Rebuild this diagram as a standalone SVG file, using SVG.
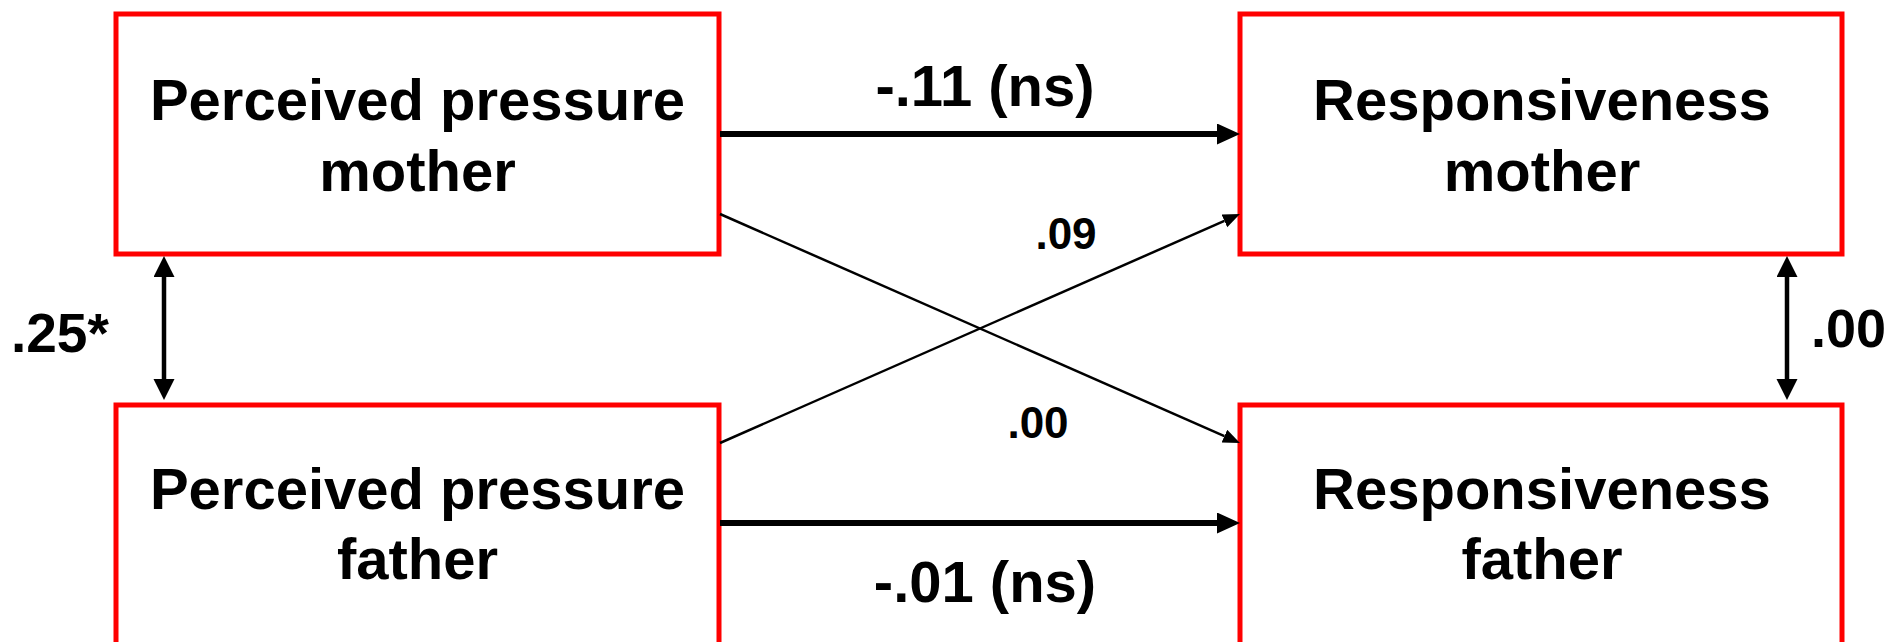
<svg xmlns="http://www.w3.org/2000/svg" width="1904" height="642" viewBox="0 0 1904 642">
<style>
.box{fill:#fff;stroke:#ff0000;stroke-width:5}
.nt{font-family:"Liberation Sans",Arial,sans-serif;font-weight:bold;font-size:58px;fill:#000;text-anchor:middle}
.lb{font-family:"Liberation Sans",Arial,sans-serif;font-weight:bold;fill:#000}
.thick{stroke:#000;stroke-width:6;fill:none}
.thin{stroke:#000;stroke-width:2.5;fill:none}
.vert{stroke:#000;stroke-width:4.5;fill:none}
</style>
<defs>
<marker id="ahBig" markerUnits="userSpaceOnUse" markerWidth="24" markerHeight="22" refX="0" refY="10.5" orient="auto"><path d="M0,0 L23,10.5 L0,21 z" fill="#000"/></marker>
<marker id="ahThin" markerUnits="userSpaceOnUse" markerWidth="18" markerHeight="15" refX="0" refY="7" orient="auto"><path d="M0,0 L17,7 L0,14 z" fill="#000"/></marker>
<marker id="ahV" markerUnits="userSpaceOnUse" markerWidth="22" markerHeight="22" refX="0" refY="10.5" orient="auto-start-reverse"><path d="M0,0 L21,10.5 L0,21 z" fill="#000"/></marker>
</defs>
<rect width="1904" height="642" fill="#fff"/>
<g id="node-ppm"><rect class="box" x="116" y="14" width="603" height="240"/><text class="nt" x="417.5" y="120">Perceived pressure</text><text class="nt" x="417.5" y="191">mother</text></g>
<g id="node-ppf"><rect class="box" x="116" y="405" width="603" height="240"/><text class="nt" x="417.5" y="509">Perceived pressure</text><text class="nt" x="417.5" y="579">father</text></g>
<g id="node-rm"><rect class="box" x="1240" y="14" width="602" height="240"/><text class="nt" x="1542" y="120">Responsiveness</text><text class="nt" x="1542" y="191">mother</text></g>
<g id="node-rf"><rect class="box" x="1240" y="405" width="602" height="240"/><text class="nt" x="1542" y="509">Responsiveness</text><text class="nt" x="1542" y="579">father</text></g>
<g id="connectors">
<line class="thick" x1="720" y1="134" x2="1217" y2="134" marker-end="url(#ahBig)"/>
<line class="thick" x1="720" y1="523" x2="1217" y2="523" marker-end="url(#ahBig)"/>
<line class="thin" x1="720" y1="214" x2="1224.4" y2="436.15" marker-end="url(#ahThin)"/>
<line class="thin" x1="720" y1="443" x2="1224.4" y2="220.85" marker-end="url(#ahThin)"/>
<line class="vert" x1="164" y1="277" x2="164" y2="379" marker-start="url(#ahV)" marker-end="url(#ahV)"/>
<line class="vert" x1="1787" y1="277" x2="1787" y2="379" marker-start="url(#ahV)" marker-end="url(#ahV)"/>
</g>
<g id="labels">
<text class="lb" x="985" y="106" font-size="58" text-anchor="middle">-.11 (ns)</text>
<text class="lb" x="985" y="602" font-size="58" text-anchor="middle">-.01 (ns)</text>
<text class="lb" x="1066" y="249" font-size="44" text-anchor="middle">.09</text>
<text class="lb" x="1038" y="438" font-size="44" text-anchor="middle">.00</text>
<text class="lb" x="11" y="352" font-size="55">.25*</text>
<text class="lb" x="1811" y="347" font-size="54">.00</text>
</g>
</svg>
